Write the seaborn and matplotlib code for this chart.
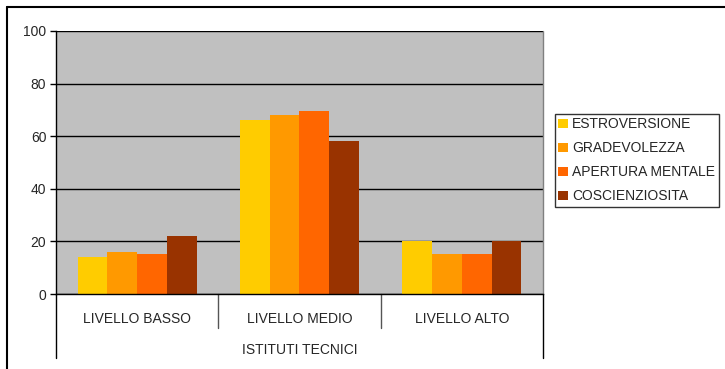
import numpy as np
import pandas as pd
import matplotlib
matplotlib.use("Agg")
import matplotlib.pyplot as plt
import seaborn as sns

# dati
livelli = ["LIVELLO BASSO", "LIVELLO MEDIO", "LIVELLO ALTO"]
tratti = ["ESTROVERSIONE", "GRADEVOLEZZA", "APERTURA MENTALE", "COSCIENZIOSITA"]
estroversione = [14, 66, 20]
gradevolezza = [16, 68, 15.3]
apertura = [15.3, 69.5, 15.3]
coscienziosita = [22, 58, 20]
gruppo = "ISTITUTI TECNICI"
colori = ["#FFCC00", "#FF9900", "#FF6600", "#993300"]

df = pd.DataFrame({
    "livello": livelli * 4,
    "tratto": np.repeat(tratti, 3),
    "valore": estroversione + gradevolezza + apertura + coscienziosita,
})

sns.set_style("white")
plt.rcParams["font.family"] = ["Liberation Sans", "DejaVu Sans"]

fig = plt.figure(figsize=(7.25, 3.69), dpi=100)
ax = fig.add_axes([56 / 725, 1 - 294 / 369, (543 - 56) / 725, (294 - 31) / 369])

sns.barplot(data=df, x="livello", y="valore", hue="tratto", order=livelli,
            hue_order=tratti, palette=colori, width=0.735, saturation=1,
            linewidth=0, ax=ax)

ax.set_facecolor("#C0C0C0")
ax.set_ylim(0, 100)
ax.set_xlim(-0.5, 2.5)
ax.set_yticks(range(0, 101, 20))
ax.yaxis.grid(True, color="black", linewidth=1)
ax.set_axisbelow(True)
ax.tick_params(axis="y", length=4, width=1, color="black", left=True,
               labelsize=10, pad=3)
ax.tick_params(axis="x", length=0, labelsize=10, pad=13)
ax.set_xlabel("")
ax.set_ylabel("")
for s in ["top", "right"]:
    ax.spines[s].set_visible(False)
ax.spines["left"].set_color("black")
ax.spines["bottom"].set_color("black")
ax.spines["left"].set_linewidth(1)
ax.spines["bottom"].set_linewidth(1)
ax.plot([2.5, 2.5], [0, 1], transform=ax.get_xaxis_transform(),
        color="#808080", lw=1, clip_on=False)

# divisori dell'asse categorie
tr = ax.get_xaxis_transform()
for xd in [0.5, 1.5]:
    ax.plot([xd, xd], [0, -34 / 263], transform=tr, color="#555555", lw=1, clip_on=False)
for xd in [-0.5, 2.5]:
    ax.plot([xd, xd], [0, -64 / 263], transform=tr, color="black", lw=1, clip_on=False)
ax.text(1, -56 / 263, gruppo, transform=tr, ha="center", va="center", fontsize=10)

leg = ax.legend(loc="upper left", bbox_to_anchor=(555 / 725, 1 - 114 / 369),
                bbox_transform=fig.transFigure, frameon=True, fancybox=False,
                fontsize=10, handlelength=0.7, handleheight=0.7,
                handletextpad=0.3, labelspacing=0.72, borderpad=0.25,
                borderaxespad=0)
leg.get_frame().set_edgecolor("black")
leg.get_frame().set_linewidth(1)

# bordo esterno
fig.add_artist(plt.Line2D([7 / 725, 7 / 725], [0, 1 - 7 / 369], color="black", lw=1.5))
fig.add_artist(plt.Line2D([7 / 725, 1], [1 - 7 / 369, 1 - 7 / 369], color="black", lw=1.5))

fig.savefig("out.png", dpi=100)
